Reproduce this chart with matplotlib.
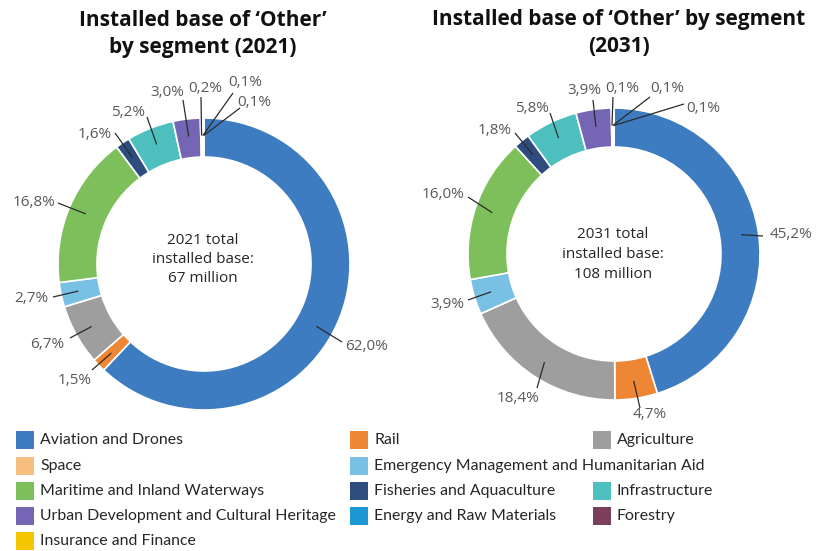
import matplotlib
matplotlib.use("Agg")
import matplotlib.pyplot as plt
from matplotlib.patches import Rectangle
import numpy as np

plt.rcParams["font.family"] = ["Lato", "DejaVu Sans"]
WIDE = ["Open Sans", "DejaVu Sans"]

# ---- data -------------------------------------------------------------
segments = [
    "Aviation and Drones", "Rail", "Agriculture", "Space",
    "Emergency Management and Humanitarian Aid", "Maritime and Inland Waterways",
    "Fisheries and Aquaculture", "Infrastructure",
    "Urban Development and Cultural Heritage", "Energy and Raw Materials",
    "Forestry", "Insurance and Finance",
]
share_2021 = [62.0, 1.5, 6.7, 0.0, 2.7, 16.8, 1.6, 5.2, 3.0, 0.2, 0.1, 0.1]
share_2031 = [45.2, 4.7, 18.4, 0.0, 3.9, 16.0, 1.8, 5.8, 3.9, 0.1, 0.1, 0.1]
total_2021 = 67
total_2031 = 108

colors = ["#3d7cc0", "#ef8633", "#9e9e9e", "#f6be7f", "#79c0e5", "#7dbf5b",
          "#2f4c7e", "#4dbfbf", "#7566b5", "#1f96d4", "#7b3f5e", "#f6c700"]

# ---- figure in pixel coordinates --------------------------------------
W, H = 819, 551
fig = plt.figure(figsize=(W / 100, H / 100), dpi=100)
ax = fig.add_axes([0, 0, 1, 1])


def P(x, y):
    """Top-left pixel coordinates -> axes data coordinates."""
    return x, H - y


R_OUT, RING = 146, 39
LABEL_COLOR = "#595959"


def fmt(v):
    return f"{v:.1f}".replace(".", ",") + "%"


def donut(values, center, label_pos, leader_end, angle_override):
    cx, cy = P(*center)
    wedges, _ = ax.pie(values, colors=colors, startangle=90, counterclock=False,
                       radius=R_OUT, center=(cx, cy), frame=True,
                       wedgeprops=dict(width=RING, edgecolor="white", linewidth=1.2))
    k = 0
    for i, (w, v) in enumerate(zip(wedges, values)):
        if v <= 0:
            continue
        ang = np.deg2rad(angle_override.get(i, (w.theta1 + w.theta2) / 2))
        r0 = R_OUT * 0.88
        sx, sy = cx + r0 * np.cos(ang), cy + r0 * np.sin(ang)
        ex, ey = P(*leader_end[k])
        ax.plot([sx, ex], [sy, ey], color="#2b2b2b", lw=0.9, solid_capstyle="butt")
        lx, ly = P(*label_pos[k])
        ax.text(lx, ly, fmt(v), ha="center", va="center", fontsize=11,
                color=LABEL_COLOR, family=WIDE)
        k += 1


# 2021 donut
donut(share_2021, (204, 264),
      label_pos=[(367, 347), (75, 380), (47, 344), (31, 298), (34, 203),
                 (95, 135), (128, 113), (167, 93), (205, 89), (245, 83),
                 (254, 102)],
      leader_end=[(342, 342), (92, 370), (70, 338), (53, 297), (58, 203),
                  (115, 133), (147, 117), (183, 100), (201, 97), (233, 93),
                  (240, 108)],
      angle_override={0: -29})

# 2031 donut
donut(share_2031, (614, 254),
      label_pos=[(791, 235), (650, 415), (518, 398), (447, 304), (443, 194),
                 (495, 130), (532, 108), (584, 90), (622, 89), (667, 89),
                 (703, 108)],
      leader_end=[(763, 236), (640, 408), (537, 388), (468, 300), (468, 197),
                  (515, 133), (550, 113), (593, 100), (613, 97), (650, 97),
                  (684, 104)],
      angle_override={})

# centre captions
for (x, y0), total, year in [((203, 240), total_2021, 2021),
                             ((613, 235), total_2031, 2031)]:
    lines = [f"{year} total", "installed base:", f"{total} million"]
    for j, line in enumerate(lines):
        ax.text(*P(x, y0 + j * 19.5), line, ha="center", va="center",
                fontsize=11, color="#262626", family=WIDE)

# titles
title_kw = dict(ha="center", va="center", fontsize=15, fontweight="bold",
                color="#111111", family=WIDE)
ax.text(*P(203, 20), "Installed base of \u2018Other\u2019", **title_kw)
ax.text(*P(203, 47), "by segment (2021)", **title_kw)
ax.text(*P(619, 20), "Installed base of \u2018Other\u2019 by segment", **title_kw)
ax.text(*P(619, 47), "(2031)", **title_kw)

# legend (row, column) placement
legend_slots = [(0, 0), (0, 1), (0, 2), (1, 0), (1, 1), (2, 0), (2, 1), (2, 2),
                (3, 0), (3, 1), (3, 2), (4, 0)]
col_x = [16, 350, 593]
row_y = [440, 466, 491, 516, 541]
SQ = 18
for name, col, (r, c) in zip(segments, colors, legend_slots):
    x, y = col_x[c], row_y[r]
    ax.add_patch(Rectangle(P(x, y + SQ / 2), SQ, SQ, facecolor=col, edgecolor="none"))
    ax.text(*P(x + 24, y), name, ha="left", va="center", fontsize=11.4,
            color="#262626")

ax.set_xlim(0, W)
ax.set_ylim(0, H)
ax.set_aspect("equal")
ax.axis("off")

fig.savefig("out.png", dpi=100, facecolor="white")
